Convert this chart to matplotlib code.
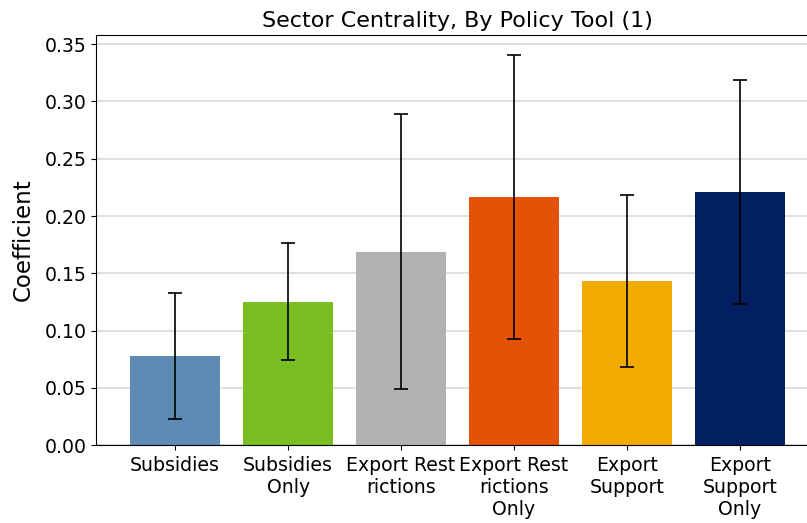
import matplotlib
matplotlib.use('Agg')
import matplotlib.pyplot as plt
import numpy as np

# policy tools and estimated coefficients
labels = ['Subsidies', 'Subsidies\nOnly', 'Export Rest\nrictions',
          'Export Rest\nrictions\nOnly', 'Export\nSupport', 'Export\nSupport\nOnly']
coef = [0.078, 0.125, 0.169, 0.217, 0.143, 0.221]
err = [0.055, 0.051, 0.120, 0.124, 0.075, 0.098]
colors = ['#5f8ab4', '#79be23', '#b1b2b1', '#e35205', '#f2ab00', '#021f5f']

fig = plt.figure(figsize=(8.07, 5.23), dpi=100)
ax = fig.add_axes([0.119, 0.149, 0.896, 0.784])

x = np.arange(len(labels))
ax.bar(x, coef, width=0.8, color=colors, zorder=2)
ax.errorbar(x, coef, yerr=err, fmt='none', ecolor='black', elinewidth=1.2,
            capsize=5, capthick=1.2, zorder=3)

ax.set_xticks(x)
ax.set_xticklabels(labels, fontsize=13.6)
ax.tick_params(axis='x', pad=4.5)
ax.tick_params(axis='y', labelsize=13.6)
ax.set_xlim(-0.7, 5.7)
ax.set_ylim(0, 0.358)
ax.set_yticks(np.arange(0, 0.36, 0.05))
ax.yaxis.grid(True, color='#d9d9d9', linewidth=1.2, zorder=0)
ax.set_axisbelow(True)
ax.set_ylabel('Coefficient', fontsize=16.5, labelpad=7)
ax.set_title('Sector Centrality, By Policy Tool (1)', fontsize=16)

plt.savefig('out.png', dpi=100)
